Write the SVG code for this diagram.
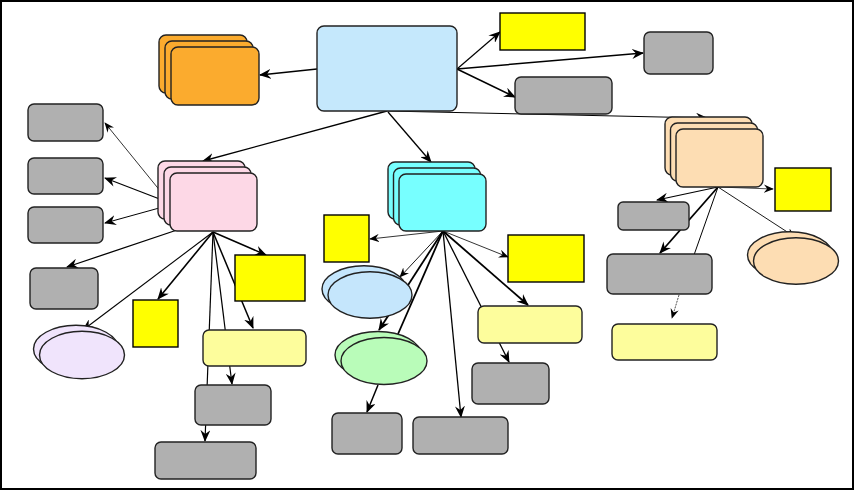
<svg xmlns="http://www.w3.org/2000/svg" width="856" height="491" viewBox="0 0 856 491">
<defs>
<style>
.e{stroke:#000;fill:none}
.n{stroke:#222;stroke-width:1.4}
.g{fill:#b0b0b0}
.y{fill:#ffff00;stroke:#000;stroke-width:1.4}
.ly{fill:#fdfd9c}
</style>
<marker id="a" viewBox="0 0 12 10" refX="11" refY="5" markerWidth="12" markerHeight="10" markerUnits="userSpaceOnUse" orient="auto"><path d="M0,0 L12,5 L0,10 L4,5 z" fill="#000"/></marker>
<marker id="s" viewBox="0 0 12 10" refX="11" refY="5" markerWidth="10" markerHeight="9" markerUnits="userSpaceOnUse" orient="auto"><path d="M0,0 L12,5 L0,10 L4,5 z" fill="#000"/></marker>
</defs>
<rect x="1" y="1" width="852" height="488" fill="#fff" stroke="#000" stroke-width="2"/>
<g id="connectors">
<line class="e" x1="317" y1="69" x2="260" y2="75" stroke-width="1.5" marker-end="url(#a)"/>
<line class="e" x1="457" y1="69" x2="500" y2="32" stroke-width="1.2" marker-end="url(#a)"/>
<line class="e" x1="457" y1="69" x2="643" y2="53" stroke-width="1.5" marker-end="url(#a)"/>
<line class="e" x1="457" y1="69" x2="515" y2="97" stroke-width="1.5" marker-end="url(#a)"/>
<line class="e" x1="387" y1="111" x2="707" y2="118" stroke-width="1" marker-end="url(#a)"/>
<line class="e" x1="387" y1="111" x2="203" y2="161" stroke-width="1.3" marker-end="url(#a)"/>
<line class="e" x1="388" y1="112" x2="431" y2="162" stroke-width="1.3" marker-end="url(#a)"/>
<line class="e" x1="170" y1="203" x2="105" y2="123" stroke-width="0.8" marker-end="url(#s)"/>
<line class="e" x1="170" y1="203" x2="105" y2="178" stroke-width="1.2" marker-end="url(#a)"/>
<line class="e" x1="170" y1="205" x2="105" y2="223" stroke-width="1" marker-end="url(#a)"/>
<line class="e" x1="177" y1="230" x2="67" y2="267" stroke-width="1.3" marker-end="url(#a)"/>
<line class="e" x1="213" y1="232" x2="83" y2="330" stroke-width="1.1" marker-end="url(#a)"/>
<line class="e" x1="213" y1="232" x2="158" y2="299" stroke-width="1.6" marker-end="url(#a)"/>
<line class="e" x1="213" y1="232" x2="266" y2="255" stroke-width="1.5" marker-end="url(#a)"/>
<line class="e" x1="213" y1="232" x2="253" y2="328" stroke-width="1.5" marker-end="url(#a)"/>
<line class="e" x1="213" y1="232" x2="232" y2="384" stroke-width="1.2" marker-end="url(#a)"/>
<line class="e" x1="213" y1="232" x2="205" y2="441" stroke-width="1.2" marker-end="url(#a)"/>
<line class="e" x1="443" y1="231" x2="370" y2="239" stroke-width="0.8" marker-end="url(#s)"/>
<line class="e" x1="443" y1="231" x2="508" y2="257" stroke-width="0.8" marker-end="url(#s)"/>
<line class="e" x1="443" y1="231" x2="400" y2="277" stroke-width="0.9" marker-end="url(#s)"/>
<line class="e" x1="443" y1="231" x2="379" y2="330" stroke-width="1.8" marker-end="url(#a)"/>
<line class="e" x1="443" y1="231" x2="398" y2="334" stroke-width="1.8"/>
<line class="e" x1="443" y1="231" x2="461" y2="417" stroke-width="1.3" marker-end="url(#a)"/>
<line class="e" x1="443" y1="231" x2="528" y2="305" stroke-width="1.8" marker-end="url(#a)"/>
<line class="e" x1="443" y1="231" x2="509" y2="362" stroke-width="1.3" marker-end="url(#a)"/>
<line class="e" x1="378" y1="385" x2="367" y2="412" stroke-width="1.5" marker-end="url(#a)"/>
<line class="e" x1="718" y1="187" x2="657" y2="200" stroke-width="1.2" marker-end="url(#a)"/>
<line class="e" x1="718" y1="187" x2="660" y2="253" stroke-width="1.8" marker-end="url(#a)"/>
<line class="e" x1="718" y1="187" x2="694" y2="255" stroke-width="1"/>
<line class="e" x1="718" y1="187" x2="795" y2="237" stroke-width="0.9" marker-end="url(#s)"/>
<line class="e" x1="718" y1="187" x2="773" y2="189" stroke-width="0.7" marker-end="url(#s)"/>
<line class="e" x1="679" y1="295" x2="672" y2="318" stroke-width="0.7" stroke-dasharray="2,1" marker-end="url(#s)"/>
</g>
<g id="central"><rect class="n" x="317" y="26" width="140" height="85" rx="7" fill="#c5e8fc" stroke="#555"/></g>
<g id="orange" fill="#fbab2e">
<rect class="n" x="159" y="35" width="88" height="58" rx="7"/>
<rect class="n" x="165" y="41" width="88" height="58" rx="7"/>
<rect class="n" x="171" y="47" width="88" height="58" rx="7"/>
</g>
<g id="yellowTop"><rect class="y" x="500" y="13" width="85" height="37"/></g>
<g id="grayTopRight"><rect class="n g" x="644" y="32" width="69" height="42" rx="6"/></g>
<g id="grayMid"><rect class="n g" x="515" y="77" width="97" height="37" rx="6"/></g>
<g id="peach" fill="#fdddb3">
<rect class="n" x="665" y="117" width="87" height="58" rx="7"/>
<rect class="n" x="670.5" y="123" width="87" height="58" rx="7"/>
<rect class="n" x="676" y="129" width="87" height="58" rx="7"/>
</g>
<g id="yellowPeach"><rect class="y" x="775" y="168" width="56" height="43"/></g>
<g id="grayPeach1"><rect class="n g" x="618" y="202" width="71" height="28" rx="5"/></g>
<g id="grayPeach2"><rect class="n g" x="607" y="254" width="105" height="40" rx="6"/></g>
<g id="ellipsePeach" fill="#fdddb3">
<ellipse class="n" cx="790" cy="255" rx="42.5" ry="23.3"/>
<ellipse class="n" cx="796" cy="261" rx="42.5" ry="23.3"/>
</g>
<g id="lightYellowPeach"><rect class="n ly" x="612" y="324" width="105" height="36" rx="6"/></g>
<g id="pink" fill="#fdd8e6">
<rect class="n" x="158" y="161" width="87" height="58" rx="7"/>
<rect class="n" x="164" y="167" width="87" height="58" rx="7"/>
<rect class="n" x="170" y="173" width="87" height="58" rx="7"/>
</g>
<g id="grayL1"><rect class="n g" x="28" y="104" width="75" height="37" rx="6"/></g>
<g id="grayL2"><rect class="n g" x="28" y="158" width="75" height="36" rx="6"/></g>
<g id="grayL3"><rect class="n g" x="28" y="207" width="75" height="36" rx="6"/></g>
<g id="grayL4"><rect class="n g" x="30" y="268" width="68" height="41" rx="6"/></g>
<g id="lavender" fill="#f0e4fc">
<ellipse class="n" cx="76" cy="349" rx="42.5" ry="23.7"/>
<ellipse class="n" cx="82" cy="355" rx="42.5" ry="23.7"/>
</g>
<g id="yellowPinkSmall"><rect class="y" x="133" y="300" width="45" height="47"/></g>
<g id="yellowPink"><rect class="y" x="235" y="255" width="70" height="46"/></g>
<g id="lightYellowPink"><rect class="n ly" x="203" y="330" width="103" height="36" rx="6"/></g>
<g id="grayPink5"><rect class="n g" x="195" y="385" width="76" height="40" rx="6"/></g>
<g id="grayPink6"><rect class="n g" x="155" y="442" width="101" height="37" rx="6"/></g>
<g id="cyan" fill="#77ffff">
<rect class="n" x="388" y="162" width="87" height="57" rx="7"/>
<rect class="n" x="393.5" y="168" width="87" height="57" rx="7"/>
<rect class="n" x="399" y="174" width="87" height="57" rx="7"/>
</g>
<g id="yellowCyanL"><rect class="y" x="324" y="215" width="45" height="47"/></g>
<g id="yellowCyanR"><rect class="y" x="508" y="235" width="76" height="47"/></g>
<g id="ellipseBlue" fill="#c5e6fc">
<ellipse class="n" cx="364" cy="289" rx="42" ry="23.3"/>
<ellipse class="n" cx="370" cy="295" rx="42" ry="23.3"/>
</g>
<g id="ellipseGreen" fill="#b9fcb9">
<ellipse class="n" cx="378" cy="355" rx="43" ry="23.5"/>
<ellipse class="n" cx="384" cy="361" rx="43" ry="23.5"/>
</g>
<g id="grayCyan7"><rect class="n g" x="332" y="413" width="70" height="41" rx="6"/></g>
<g id="grayCyan8"><rect class="n g" x="413" y="417" width="95" height="37" rx="6"/></g>
<g id="lightYellowCyan"><rect class="n ly" x="478" y="306" width="104" height="37" rx="6"/></g>
<g id="grayCyan9"><rect class="n g" x="472" y="363" width="77" height="41" rx="6"/></g>
</svg>
